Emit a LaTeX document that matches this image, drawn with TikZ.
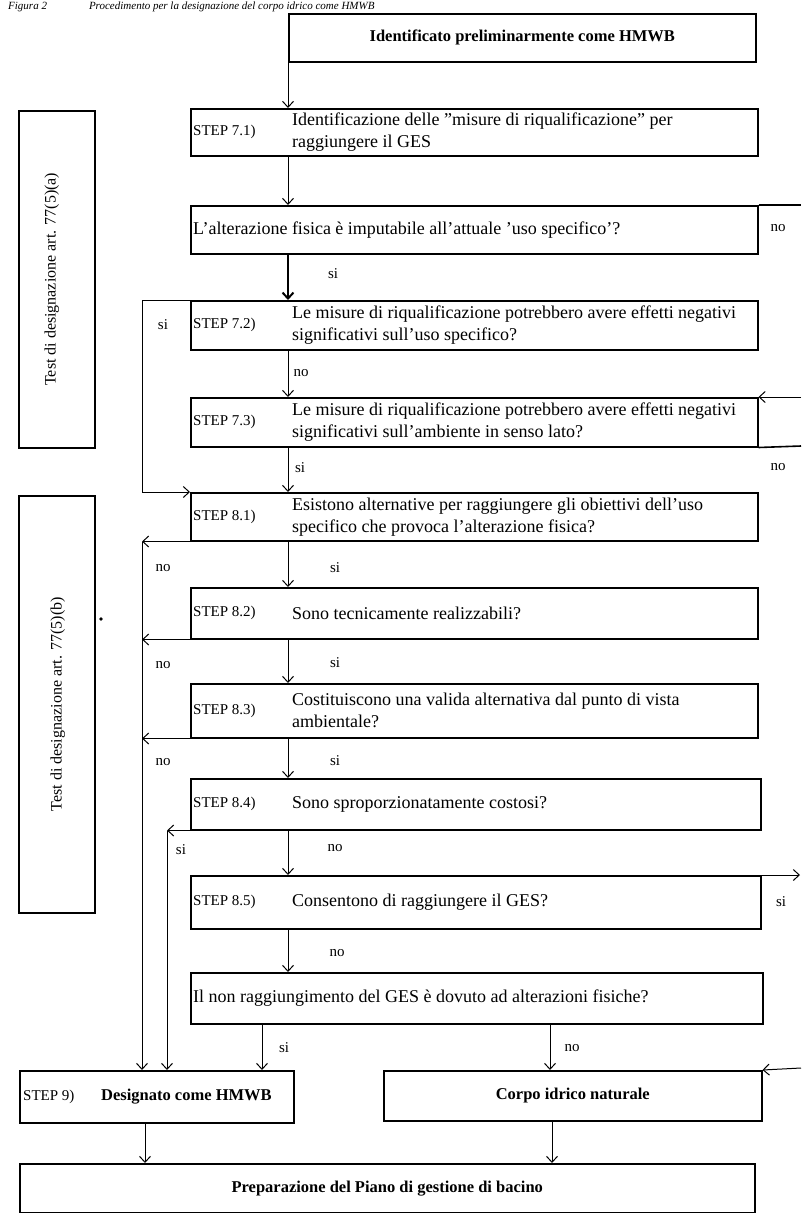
\documentclass[tikz,border=0pt]{standalone}
\usepackage{fontspec}
\setmainfont{Liberation Serif}
\usetikzlibrary{arrows.meta}
\begin{document}
\begin{tikzpicture}[x=1pt,y=-1pt,
  box/.style={draw, line width=1.5pt, inner sep=0pt, anchor=north west},
  txt/.style={font=\fontsize{18}{22}\selectfont, inner sep=0pt, align=left, anchor=west},
  steplbl/.style={font=\fontsize{15}{18}\selectfont, inner sep=0pt, anchor=west},
  btxt/.style={font=\bfseries\fontsize{16.5}{20}\selectfont, inner sep=0pt},
  lbl/.style={font=\fontsize{15}{18}\selectfont, inner sep=0pt},
  vtxt/.style={font=\fontsize{16}{20}\selectfont, inner sep=0pt, rotate=90},
  arr/.style={line width=1pt, -{Straight Barb[length=6pt,width=11pt]}},
  ln/.style={line width=1pt}]
\useasboundingbox (0,0) rectangle (801,1213);
% title
\node[anchor=base west, inner sep=0pt, font=\itshape\fontsize{11}{13}\selectfont] (title) at (8,9.5) {Figura 2\hspace{42pt}Procedimento per la designazione del corpo idrico come HMWB};
% columns
\coordinate (mx) at (288,0);
\coordinate (lx) at (142,0);
\coordinate (lx2) at (167,0);
\coordinate (sx) at (262,0);
\coordinate (nx) at (550,0);
\coordinate (px1) at (145,0);
\coordinate (px2) at (552,0);
% boxes
\node[box, minimum width=467, minimum height=48] (T0) at (288,13) {};
\node[btxt] (T0t) at (T0.center) {Identificato preliminarmente come HMWB};
\node[box, minimum width=567, minimum height=47] (S71) at (190,108) {};
\node[box, minimum width=567, minimum height=48] (Q1) at (190,205) {};
\node[box, minimum width=567, minimum height=49] (S72) at (190,300) {};
\node[box, minimum width=567, minimum height=49] (S73) at (190,397) {};
\node[box, minimum width=567, minimum height=48] (S81) at (190,492) {};
\node[box, minimum width=567, minimum height=51] (S82) at (190,587) {};
\node[box, minimum width=567, minimum height=54] (S83) at (190,683) {};
\node[box, minimum width=570, minimum height=51] (S84) at (190,778) {};
\node[box, minimum width=570, minimum height=53] (S85) at (190,875) {};
\node[box, minimum width=572, minimum height=51] (Q2) at (190,972) {};
\node[box, minimum width=274, minimum height=52] (S9) at (19,1070) {};
\node[box, minimum width=378, minimum height=50] (N) at (383,1070) {};
\node[box, minimum width=735, minimum height=49] (P) at (19,1163) {};
\node[box, minimum width=76, minimum height=337] (A) at (18,110) {};
\node[box, minimum width=76, minimum height=417] (B) at (18,495) {};
% texts
\node[steplbl] (S71l) at (S71.west) {\hspace{3pt}STEP 7.1)};
\node[txt] (S71t) at ([xshift=102pt]S71.west) {Identificazione delle "misure di riqualificazione" per\\raggiungere il GES};
\node[txt] (Q1t) at ([xshift=3pt]Q1.west) {L'alterazione fisica è imputabile all'attuale 'uso specifico'?};
\node[steplbl] (S72l) at (S72.west) {\hspace{3pt}STEP 7.2)};
\node[txt] (S72t) at ([xshift=102pt]S72.west) {Le misure di riqualificazione potrebbero avere effetti negativi\\significativi sull'uso specifico?};
\node[steplbl] (S73l) at (S73.west) {\hspace{3pt}STEP 7.3)};
\node[txt] (S73t) at ([xshift=102pt]S73.west) {Le misure di riqualificazione potrebbero avere effetti negativi\\significativi sull'ambiente in senso lato?};
\node[steplbl] (S81l) at (S81.west) {\hspace{3pt}STEP 8.1)};
\node[txt] (S81t) at ([xshift=102pt]S81.west) {Esistono alternative per raggiungere gli obiettivi dell'uso\\specifico che provoca l'alterazione fisica?};
\node[steplbl] (S82l) at (S82.west) {\hspace{3pt}STEP 8.2)};
\node[txt] (S82t) at ([xshift=102pt]S82.west) {Sono tecnicamente realizzabili?};
\node[steplbl] (S83l) at (S83.west) {\hspace{3pt}STEP 8.3)};
\node[txt] (S83t) at ([xshift=102pt]S83.west) {Costituiscono una valida alternativa dal punto di vista\\ambientale?};
\node[steplbl] (S84l) at (S84.west) {\hspace{3pt}STEP 8.4)};
\node[txt] (S84t) at ([xshift=102pt]S84.west) {Sono sproporzionatamente costosi?};
\node[steplbl] (S85l) at (S85.west) {\hspace{3pt}STEP 8.5)};
\node[txt] (S85t) at ([xshift=102pt]S85.west) {Consentono di raggiungere il GES?};
\node[txt] (Q2t) at ([xshift=3pt]Q2.west) {Il non raggiungimento del GES è dovuto ad alterazioni fisiche?};
\node[steplbl] (S9l) at ([xshift=4pt]S9.west) {STEP 9)};
\node[btxt, anchor=west] (S9t) at ([xshift=82pt]S9.west) {Designato come HMWB};
\node[btxt] (Nt) at (N.center) {Corpo idrico naturale};
\node[btxt] (Pt) at (P.center) {Preparazione del Piano di gestione di bacino};
\node[vtxt] (At) at ([xshift=-5pt]A.center) {Test di designazione art. 77(5)(a)};
\node[vtxt] (Bt) at ([xshift=1pt]B.center) {Test di designazione art. 77(5)(b)};
\node[circle, fill, inner sep=1.3pt] (dot) at (101,619) {};
% main flow
\draw[arr] (T0.south west) -- (T0.south west |- S71.north);
\draw[arr] (S71.south -| mx) -- (Q1.north -| mx);
\draw[arr, line width=2pt] (Q1.south -| mx) -- (S72.north -| mx);
\draw[arr] (S72.south -| mx) -- (S73.north -| mx);
\draw[arr] (S73.south -| mx) -- (S81.north -| mx);
\draw[arr] (S81.south -| mx) -- (S82.north -| mx);
\draw[arr] (S82.south -| mx) -- (S83.north -| mx);
\draw[arr] (S83.south -| mx) -- (S84.north -| mx);
\draw[arr] (S84.south -| mx) -- (S85.north -| mx);
\draw[arr] (S85.south -| mx) -- (Q2.north -| mx);
% left branches
\draw[arr] (S72.north west) -- (S72.north west -| lx) -- (S81.north west -| lx) -- (S81.north west);
\draw[arr] (S81.south west) -- (S81.south west -| lx);
\draw[arr] (S82.south west) -- (S82.south west -| lx);
\draw[arr] (S83.south west) -- (S83.south west -| lx);
\draw[arr] (S81.south west -| lx) -- (S9.north -| lx);
\draw[arr] (S84.south west) -- (S84.south west -| lx2);
\draw[arr] (S84.south west -| lx2) -- (S9.north -| lx2);
% bottom
\draw[arr] (Q2.south -| sx) -- (S9.north -| sx);
\draw[arr] (Q2.south -| nx) -- (N.north -| nx);
\draw[arr] (S9.south -| px1) -- (P.north -| px1);
\draw[arr] (N.south -| px2) -- (P.north -| px2);
% right side
\coordinate (e1) at (801,205);
\coordinate (e2) at (801,397);
\coordinate (e3) at (801,446);
\coordinate (e4) at (800,875);
\coordinate (e5) at (801,1068);
\draw[ln, line width=1.6pt] (Q1.north east) -- (e1);
\draw[arr] (e2) -- (S73.north east);
\draw[ln, line width=1.6pt] (S73.south east) -- (e3);
\draw[arr] (S85.north east) -- (e4);
\draw[arr] (e5) -- (N.north east);
% labels
\node[lbl] (l1) at (778,228) {no};
\node[lbl] (l2) at (333,274) {si};
\node[lbl] (l3) at (163,325) {si};
\node[lbl] (l4) at (301,373) {no};
\node[lbl] (l5) at (778,467) {no};
\node[lbl] (l6) at (300,468) {si};
\node[lbl] (l7) at (163,568) {no};
\node[lbl] (l8) at (335,568) {si};
\node[lbl] (l9) at (163,665) {no};
\node[lbl] (l10) at (335,663) {si};
\node[lbl] (l11) at (163,762) {no};
\node[lbl] (l12) at (335,761) {si};
\node[lbl] (l13) at (181,850) {si};
\node[lbl] (l14) at (335,848) {no};
\node[lbl] (l15) at (781,902) {si};
\node[lbl] (l16) at (337,953) {no};
\node[lbl] (l17) at (284,1048) {si};
\node[lbl] (l18) at (572,1048) {no};
\end{tikzpicture}
\end{document}
